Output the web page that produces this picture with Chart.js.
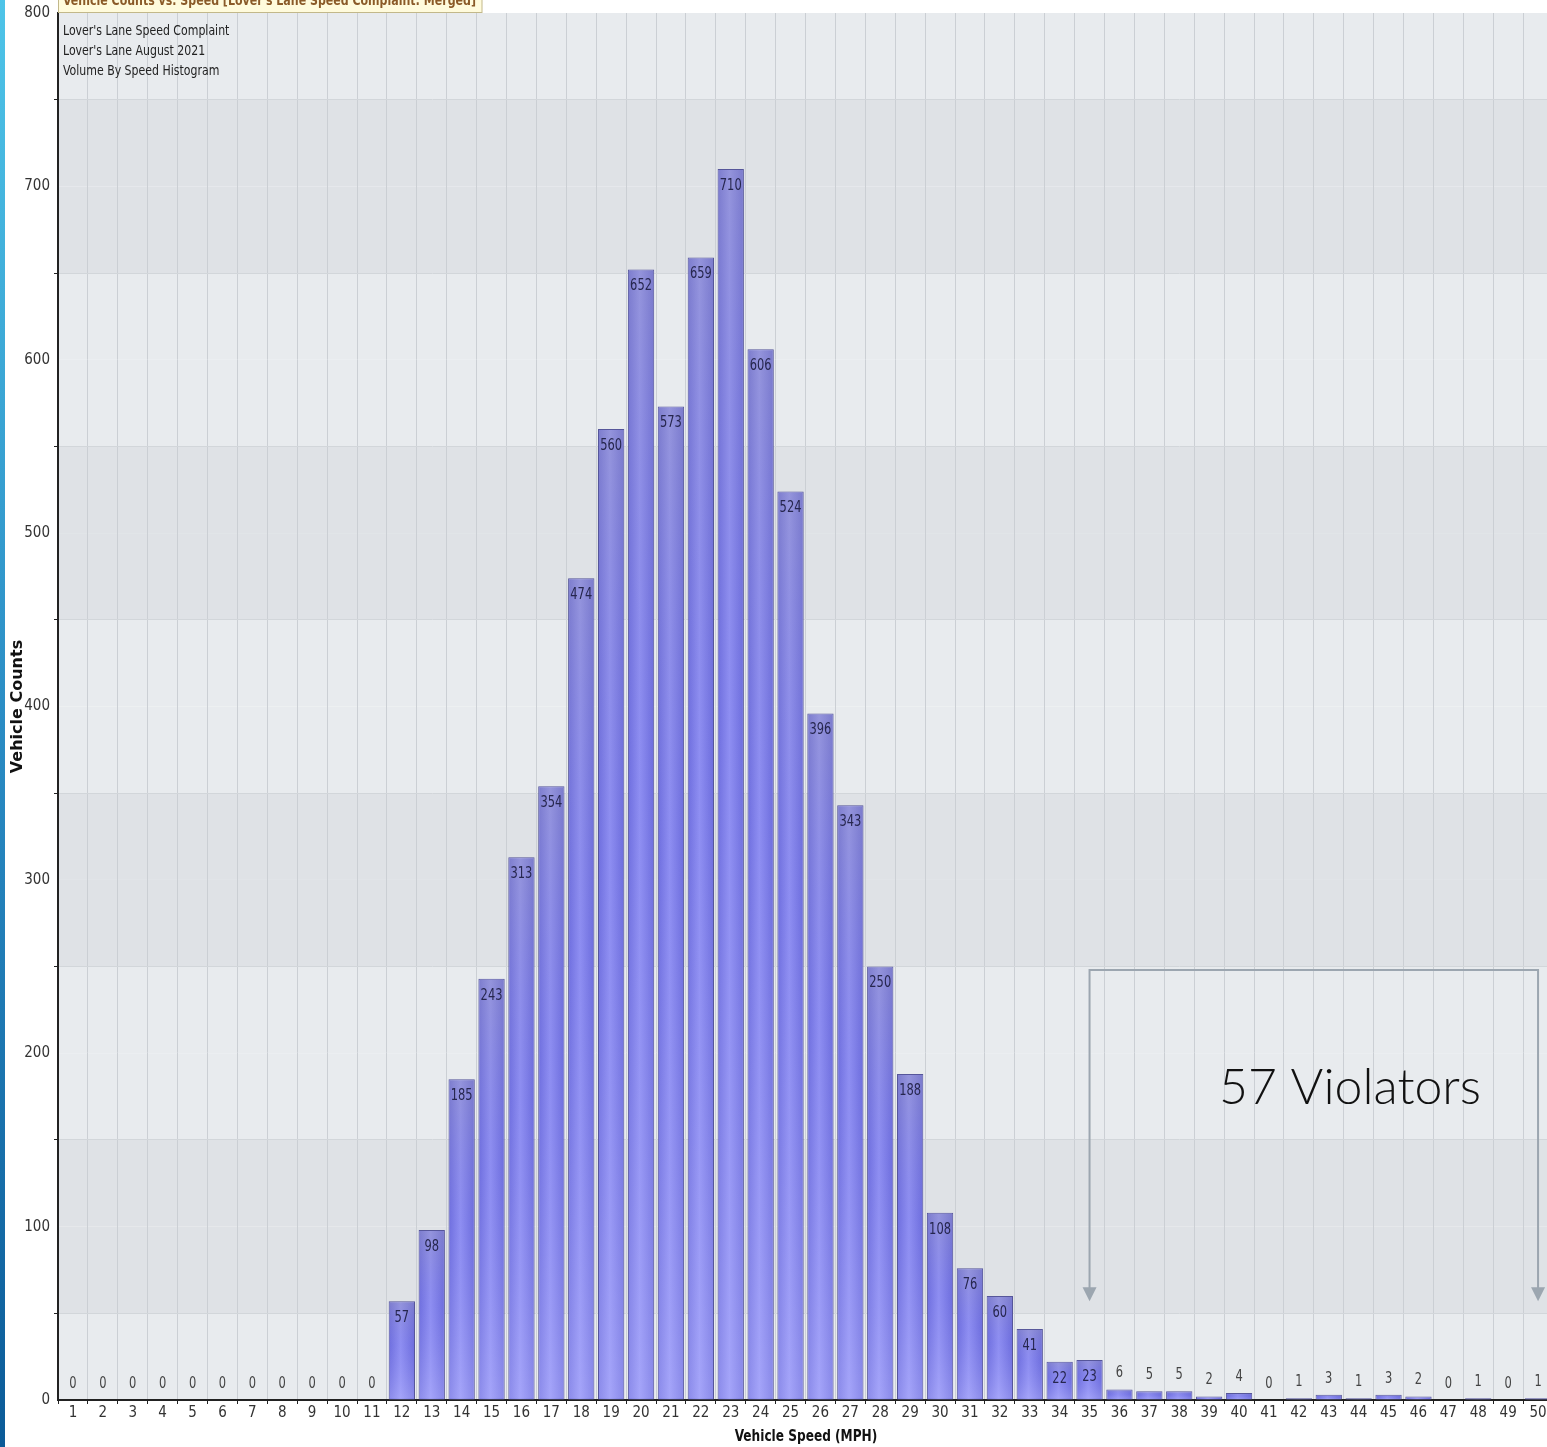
<!DOCTYPE html>
<html>
<head>
<meta charset="utf-8">
<script src="https://cdn.jsdelivr.net/npm/chart.js@4.4.0/dist/chart.umd.min.js"></script>
<style>
  html, body { margin: 0; padding: 0; background: #fff; overflow: hidden; }
  #wrap { position: relative; width: 1547px; height: 1447px; overflow: hidden; }
</style>
</head>
<body>
<div id="wrap"><canvas id="speedChart" width="1553" height="1447"></canvas></div>
<script>
const speeds = ["1", "2", "3", "4", "5", "6", "7", "8", "9", "10",
  "11", "12", "13", "14", "15", "16", "17", "18", "19", "20",
  "21", "22", "23", "24", "25", "26", "27", "28", "29", "30",
  "31", "32", "33", "34", "35", "36", "37", "38", "39", "40",
  "41", "42", "43", "44", "45", "46", "47", "48", "49", "50"];
const counts = [0, 0, 0, 0, 0, 0, 0, 0, 0, 0,
  0, 57, 98, 185, 243, 313, 354, 474, 560, 652,
  573, 659, 710, 606, 524, 396, 343, 250, 188, 108,
  76, 60, 41, 22, 23, 6, 5, 5, 2, 4,
  0, 1, 3, 1, 3, 2, 0, 1, 0, 1];
const yMax = 800;
const chartTitle = "Vehicle Counts vs. Speed [Lover's Lane Speed Complaint: Merged]";
const notes = ["Lover's Lane Speed Complaint", "Lover's Lane August 2021", "Volume By Speed Histogram"];
const violatorLabel = "57 Violators";
const violatorFrom = "35";
const violatorTo = "50";

const narrow = '"DejaVu Sans Condensed", "Liberation Sans Narrow", sans-serif';

// text squeezed sideways, the source font is a narrow one
function narrowText(ctx, text, x, y, squeeze) {
  ctx.save();
  ctx.translate(x, y);
  ctx.scale(squeeze, 1);
  ctx.fillText(text, 0, 0);
  ctx.restore();
}

// banded background + blue strip on the left
const backdrop = {
  id: "backdrop",
  beforeDraw(chart) {
    const { ctx, chartArea: a, scales: { y } } = chart;
    ctx.save();
    const strip = ctx.createLinearGradient(0, 0, 0, chart.height);
    strip.addColorStop(0, "#4ec4e8");
    strip.addColorStop(0.5, "#2a8cc4");
    strip.addColorStop(1, "#0b5b98");
    ctx.fillStyle = strip;
    ctx.fillRect(0, 0, 5, chart.height);
    for (let v = 0; v < yMax; v += 50) {
      const band = Math.floor((v + 50) / 100) % 2;
      ctx.fillStyle = band ? "#dfe2e6" : "#e8ebee";
      const top = y.getPixelForValue(v + 50), bot = y.getPixelForValue(v);
      ctx.fillRect(a.left, top, a.right - a.left, bot - top);
    }
    ctx.restore();
  }
};

// shading, value labels, annotation, texts
const overlay = {
  id: "overlay",
  afterDatasetsDraw(chart) {
    const { ctx, chartArea: a, scales: { x, y } } = chart;
    const bars = chart.getDatasetMeta(0).data;
    ctx.save();
    bars.forEach(b => {
      const h = b.base - b.y;
      if (h < 3) return;
      const g = ctx.createLinearGradient(0, b.y, 0, b.base);
      g.addColorStop(0, "rgba(140,140,180,0.4)");
      g.addColorStop(0.45, "rgba(95,95,225,0.2)");
      g.addColorStop(1, "rgba(185,185,255,0.35)");
      ctx.fillStyle = g;
      ctx.fillRect(b.x - b.width / 2 + 1, b.y + 1, b.width - 2, h - 2);
    });
    ctx.font = "15px " + narrow;
    ctx.textAlign = "center";
    ctx.textBaseline = "middle";
    bars.forEach((b, i) => {
      const v = counts[i];
      if (v >= 20) {
        ctx.fillStyle = "#26264e";
        narrowText(ctx, String(v), b.x, b.y + 17, 0.85);
      } else {
        ctx.fillStyle = "#444";
        narrowText(ctx, String(v), b.x, b.y - 16, 0.85);
      }
    });

    // violators bracket
    const x1 = x.getPixelForValue(speeds.indexOf(violatorFrom));
    const x2 = x.getPixelForValue(speeds.indexOf(violatorTo));
    const yTop = y.getPixelForValue(248);
    const yTip = y.getPixelForValue(57);
    ctx.strokeStyle = "#9ca6b0";
    ctx.fillStyle = "#9ca6b0";
    ctx.lineWidth = 2;
    ctx.beginPath();
    ctx.moveTo(x1, yTip - 12);
    ctx.lineTo(x1, yTop);
    ctx.lineTo(x2, yTop);
    ctx.lineTo(x2, yTip - 12);
    ctx.stroke();
    [x1, x2].forEach(px => {
      ctx.beginPath();
      ctx.moveTo(px - 7, yTip - 14);
      ctx.lineTo(px + 7, yTip - 14);
      ctx.lineTo(px, yTip);
      ctx.closePath();
      ctx.fill();
    });
    ctx.fillStyle = "#111";
    ctx.font = '300 50px Lato, "Open Sans", sans-serif';
    ctx.textBaseline = "alphabetic";
    ctx.fillText(violatorLabel, 1350, 1104);

    // notes in the top-left corner
    ctx.font = "14px " + narrow;
    ctx.textAlign = "left";
    ctx.textBaseline = "middle";
    ctx.fillStyle = "#222";
    notes.forEach((t, i) => narrowText(ctx, t, a.left + 5, 31 + i * 20, 0.87));

    // clipped title box
    ctx.font = "bold 14px " + narrow;
    const squeeze = 413 / ctx.measureText(chartTitle).width;
    ctx.fillStyle = "#fffbdc";
    ctx.fillRect(a.left, -10, 424, 23);
    ctx.strokeStyle = "#c2b88a";
    ctx.lineWidth = 1;
    ctx.strokeRect(a.left + 0.5, -10, 423.5, 22.5);
    ctx.fillStyle = "#8a5a28";
    ctx.textBaseline = "alphabetic";
    narrowText(ctx, chartTitle, a.left + 5, 5, squeeze);

    // axis titles
    ctx.fillStyle = "#111";
    ctx.font = "bold 15px " + narrow;
    ctx.textAlign = "center";
    narrowText(ctx, "Vehicle Speed (MPH)", 806, 1441, 0.9);
    ctx.translate(22, (a.top + a.bottom) / 2);
    ctx.rotate(-Math.PI / 2);
    ctx.font = 'bold 16px "DejaVu Sans", Arial, sans-serif';
    ctx.fillText("Vehicle Counts", 0, 0);
    ctx.restore();
  }
};

const ctx = document.getElementById("speedChart").getContext("2d");
const speedChart = new Chart(ctx, {
  type: "bar",
  data: {
    labels: speeds,
    datasets: [{
      label: "Vehicle Counts",
      data: counts,
      backgroundColor: c => {
        const chart = c.chart;
        if (!chart.chartArea) return "#7b7be4";
        const px = chart.scales.x.getPixelForValue(c.dataIndex);
        const g = chart.ctx.createLinearGradient(px - 13, 0, px + 13, 0);
        g.addColorStop(0, "#7272de");
        g.addColorStop(0.45, "#9a9af6");
        g.addColorStop(1, "#7070dc");
        return g;
      },
      borderColor: "#56569a",
      borderWidth: 1,
      barPercentage: 0.88,
      categoryPercentage: 1.0,
    }],
  },
  options: {
    responsive: false,
    animation: false,
    devicePixelRatio: 1,
    layout: { padding: { top: 13, right: 0, left: 0, bottom: 0 } },
    plugins: {
      legend: { display: false },
      tooltip: { enabled: false },
    },
    scales: {
      x: {
        offset: true,
        grid: { offset: true, color: "#cbcfd4", tickColor: "#222", tickLength: 4 },
        border: { color: "#222", width: 2 },
        ticks: { color: "#333", font: { family: narrow, size: 15 }, maxRotation: 0, autoSkip: false, padding: 0 },
        afterFit: s => { s.height = 47; },
      },
      y: {
        min: 0,
        max: yMax,
        grid: {
          color: c => (c.tick && c.tick.value % 100 !== 0 ? "#d2d6da" : "rgba(0,0,0,0)"),
          tickColor: c => (c.tick && c.tick.value % 100 !== 0 ? "#222" : "rgba(0,0,0,0)"),
          tickLength: 4,
        },
        border: { color: "#222", width: 2 },
        ticks: {
          stepSize: 50,
          color: "#333",
          font: { family: narrow, size: 15 },
          padding: 4,
          callback: v => (v % 100 === 0 ? v : ""),
        },
        afterFit: s => { s.width = 58; },
      },
    },
  },
  plugins: [backdrop, overlay],
});
</script>
</body>
</html>
